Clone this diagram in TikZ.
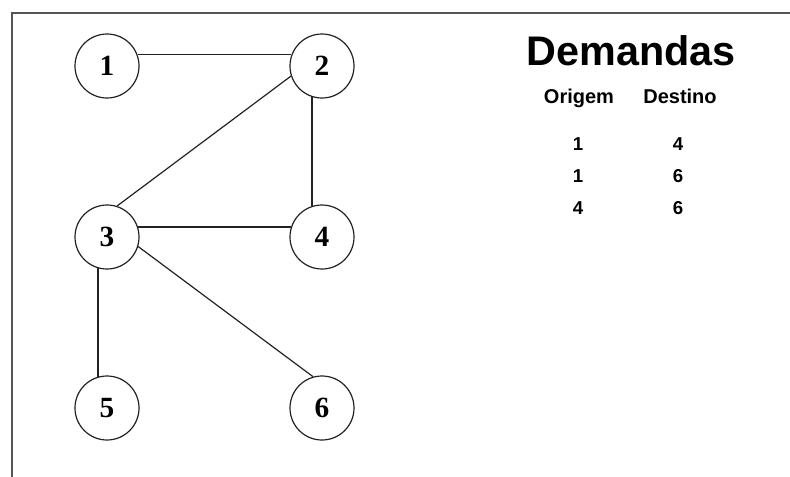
\documentclass[tikz,border=0pt]{standalone}
\usepackage{fontspec}
\setmainfont{Liberation Serif}
\newfontfamily\arialfont{Liberation Sans}
\definecolor{frame}{HTML}{555555}
\definecolor{edge}{HTML}{222222}

\tikzset{
  vertex/.style={circle,draw=edge,line width=0.9pt,minimum size=48pt,inner sep=0pt,
    font=\fontsize{22}{22}\selectfont\bfseries},
  link/.style={draw=edge,line width=0.9pt},
  cell/.style={anchor=base,font=\fontsize{14}{14}\selectfont\arialfont\bfseries},
}

\begin{document}
\begin{tikzpicture}[x=0.75pt,y=-0.75pt]
  \useasboundingbox (0,0) rectangle (790,476);

  % Outer frame
  \draw[frame,line width=1.4pt] (12,480) -- (12,13) -- (795,13);

  % Network
  \node[vertex] (n1) at (107,66)  {1};
  \node[vertex] (n2) at (322,66)  {2};
  \node[vertex] (n3) at (107,237) {3};
  \node[vertex] (n4) at (322,237) {4};
  \node[vertex] (n5) at (107,408) {5};
  \node[vertex] (n6) at (322,408) {6};

  \draw[link] (n1.20)  -- (n2.160);
  \draw[link] (n2.198) -- (n3.72);
  \draw[link] (n2.252) -- (n4.108);
  \draw[link] (n3.18)  -- (n4.162);
  \draw[link] (n3.254) -- (n5.106);
  \draw[link] (n3.343) -- (n6.106);

  % Demand table
  \node[anchor=base,font=\fontsize{31}{31}\selectfont\arialfont\bfseries] (title) at (631,65) {Demandas};
  \node[cell,font=\fontsize{15}{15}\selectfont\arialfont\bfseries] (orig) at (579,103) {Origem};
  \node[cell,font=\fontsize{15}{15}\selectfont\arialfont\bfseries] (dest) at (680,103) {Destino};

  \node[cell] (o1) at (578,150) {1};  \node[cell] (d1) at (678,150) {4};
  \node[cell] (o2) at (578,182) {1};  \node[cell] (d2) at (678,182) {6};
  \node[cell] (o3) at (578,214) {4};  \node[cell] (d3) at (678,214) {6};
\end{tikzpicture}
\end{document}
